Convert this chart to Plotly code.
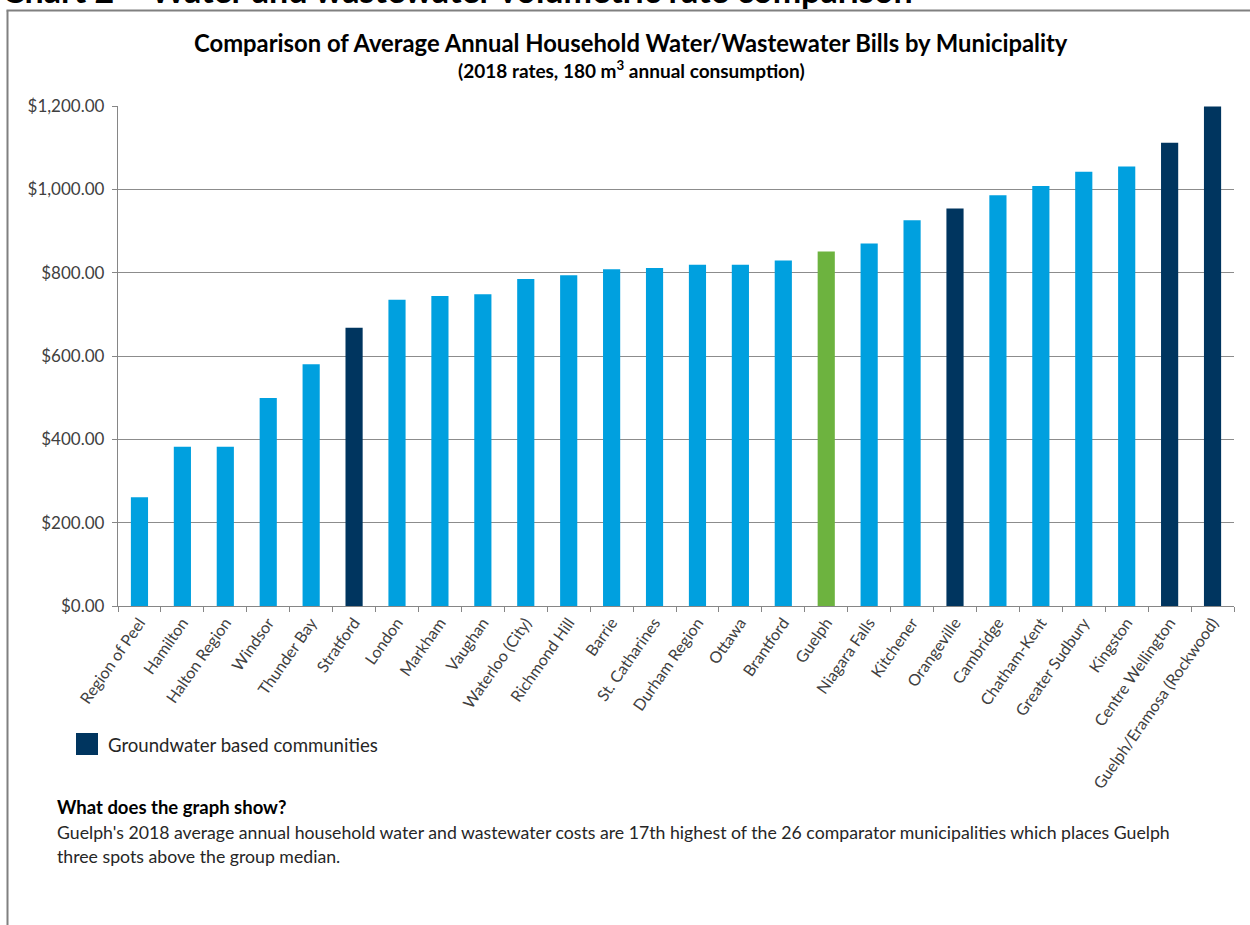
import plotly.graph_objects as go

municipalities = [
    "Region of Peel", "Hamilton", "Halton Region", "Windsor", "Thunder Bay",
    "Stratford", "London", "Markham", "Vaughan", "Waterloo (City)",
    "Richmond Hill", "Barrie", "St. Catharines", "Durham Region", "Ottawa",
    "Brantford", "Guelph", "Niagara Falls", "Kitchener", "Orangeville",
    "Cambridge", "Chatham-Kent", "Greater Sudbury", "Kingston",
    "Centre Wellington", "Guelph/Eramosa (Rockwood)",
]
annual_bill = [
    261, 382, 382, 499, 580, 668, 735, 744, 748, 785,
    794, 808, 811, 819, 819, 829, 851, 870, 926, 954,
    986, 1008, 1042, 1055, 1112, 1199,
]
# source type: "surface", "ground" (groundwater based), "guelph"
source_type = [
    "surface", "surface", "surface", "surface", "surface",
    "ground", "surface", "surface", "surface", "surface",
    "surface", "surface", "surface", "surface", "surface",
    "surface", "guelph", "surface", "surface", "ground",
    "surface", "surface", "surface", "surface", "ground", "ground",
]
type_colors = {"surface": "#00A0DF", "ground": "#00355F", "guelph": "#6DB33F"}

heading = "Chart 2 – Water and wastewater volumetric rate comparison"
title = "Comparison of Average Annual Household Water/Wastewater Bills by Municipality"
subtitle = "(2018 rates, 180 m<sup>3</sup> annual consumption)"
legend_label = "Groundwater based communities"
note_head = "What does the graph show?"
note_lines = [
    "Guelph's 2018 average annual household water and wastewater costs are 17th highest of the 26 comparator municipalities which places Guelph",
    "three spots above the group median.",
]

W, H = 1250, 925
L, R, T, B = 118, 16, 106, 319
PW, PH = W - L - R, H - T - B
FONT = "Lato"


def px(x):
    return (x - L) / PW


def py(y):
    return (H - B - y) / PH


fig = go.Figure()
fig.add_trace(go.Bar(
    x=municipalities,
    y=annual_bill,
    marker=dict(color=[type_colors[t] for t in source_type], line=dict(width=0)),
    showlegend=False,
    hovertemplate="%{x}: %{y:$,.2f}<extra></extra>",
))

annotations = [
    dict(text="<b>" + heading + "</b>", x=px(0), y=py(12), xanchor="left", yanchor="bottom",
         font=dict(size=34, color="#000000", family=FONT)),
    dict(text="<b>" + title + "</b>", x=px(631), y=py(42.5), xanchor="center", yanchor="middle",
         font=dict(size=23.8, color="#000000", family=FONT)),
    dict(text="<b>" + subtitle + "</b>", x=px(631), y=py(70), xanchor="center", yanchor="middle",
         font=dict(size=19, color="#000000", family=FONT)),
    dict(text=legend_label, x=px(106), y=py(745), xanchor="left", yanchor="middle",
         font=dict(size=18.6, color="#262626", family=FONT)),
    dict(text="<b>" + note_head + "</b>", x=px(55), y=py(807), xanchor="left", yanchor="middle",
         font=dict(size=18.5, color="#000000", family=FONT)),
]
for i, line in enumerate(note_lines):
    annotations.append(dict(text=line, x=px(55), y=py(832 + 24 * i), xanchor="left", yanchor="middle",
                            font=dict(size=17.7, color="#262626", family=FONT)))
for a in annotations:
    a.update(xref="paper", yref="paper", showarrow=False)

shapes = [
    # outer frame (left and top edges)
    dict(type="line", xref="paper", yref="paper", x0=px(7.5), x1=px(7.5), y0=py(10.5), y1=py(930),
         line=dict(color="#808080", width=2)),
    dict(type="line", xref="paper", yref="paper", x0=px(6.5), x1=px(1255), y0=py(10.5), y1=py(10.5),
         line=dict(color="#808080", width=2)),
    # legend swatch
    dict(type="rect", xref="paper", yref="paper", x0=px(76), x1=px(98), y0=py(733), y1=py(755),
         fillcolor=type_colors["ground"], line=dict(width=0)),
]

fig.update_layout(
    width=W, height=H,
    margin=dict(l=L, r=R, t=T, b=B, autoexpand=False),
    paper_bgcolor="white", plot_bgcolor="white",
    bargap=0.6,
    font=dict(family=FONT, color="#404040"),
    annotations=annotations,
    shapes=shapes,
    xaxis=dict(
        type="category", tickangle=-55, tickson="boundaries", ticks="outside", ticklen=5,
        tickcolor="#868686", tickwidth=1.3, showline=True, linecolor="#868686", linewidth=1.3,
        tickfont=dict(size=16, color="#404040", family=FONT), showgrid=False,
    ),
    yaxis=dict(
        range=[0, 1200], dtick=200, tickformat="$,.2f", ticks="outside", ticklen=5,
        tickcolor="#868686", tickwidth=1.3, showline=True, linecolor="#868686", linewidth=1.3,
        gridcolor="#8c8c8c", gridwidth=1.3, zeroline=False,
        tickfont=dict(size=17, color="#404040", family=FONT), ticklabelstandoff=4,
    ),
)

fig.write_html("out.html", config={"displayModeBar": False},
               post_script="document.body.style.margin='0';")
